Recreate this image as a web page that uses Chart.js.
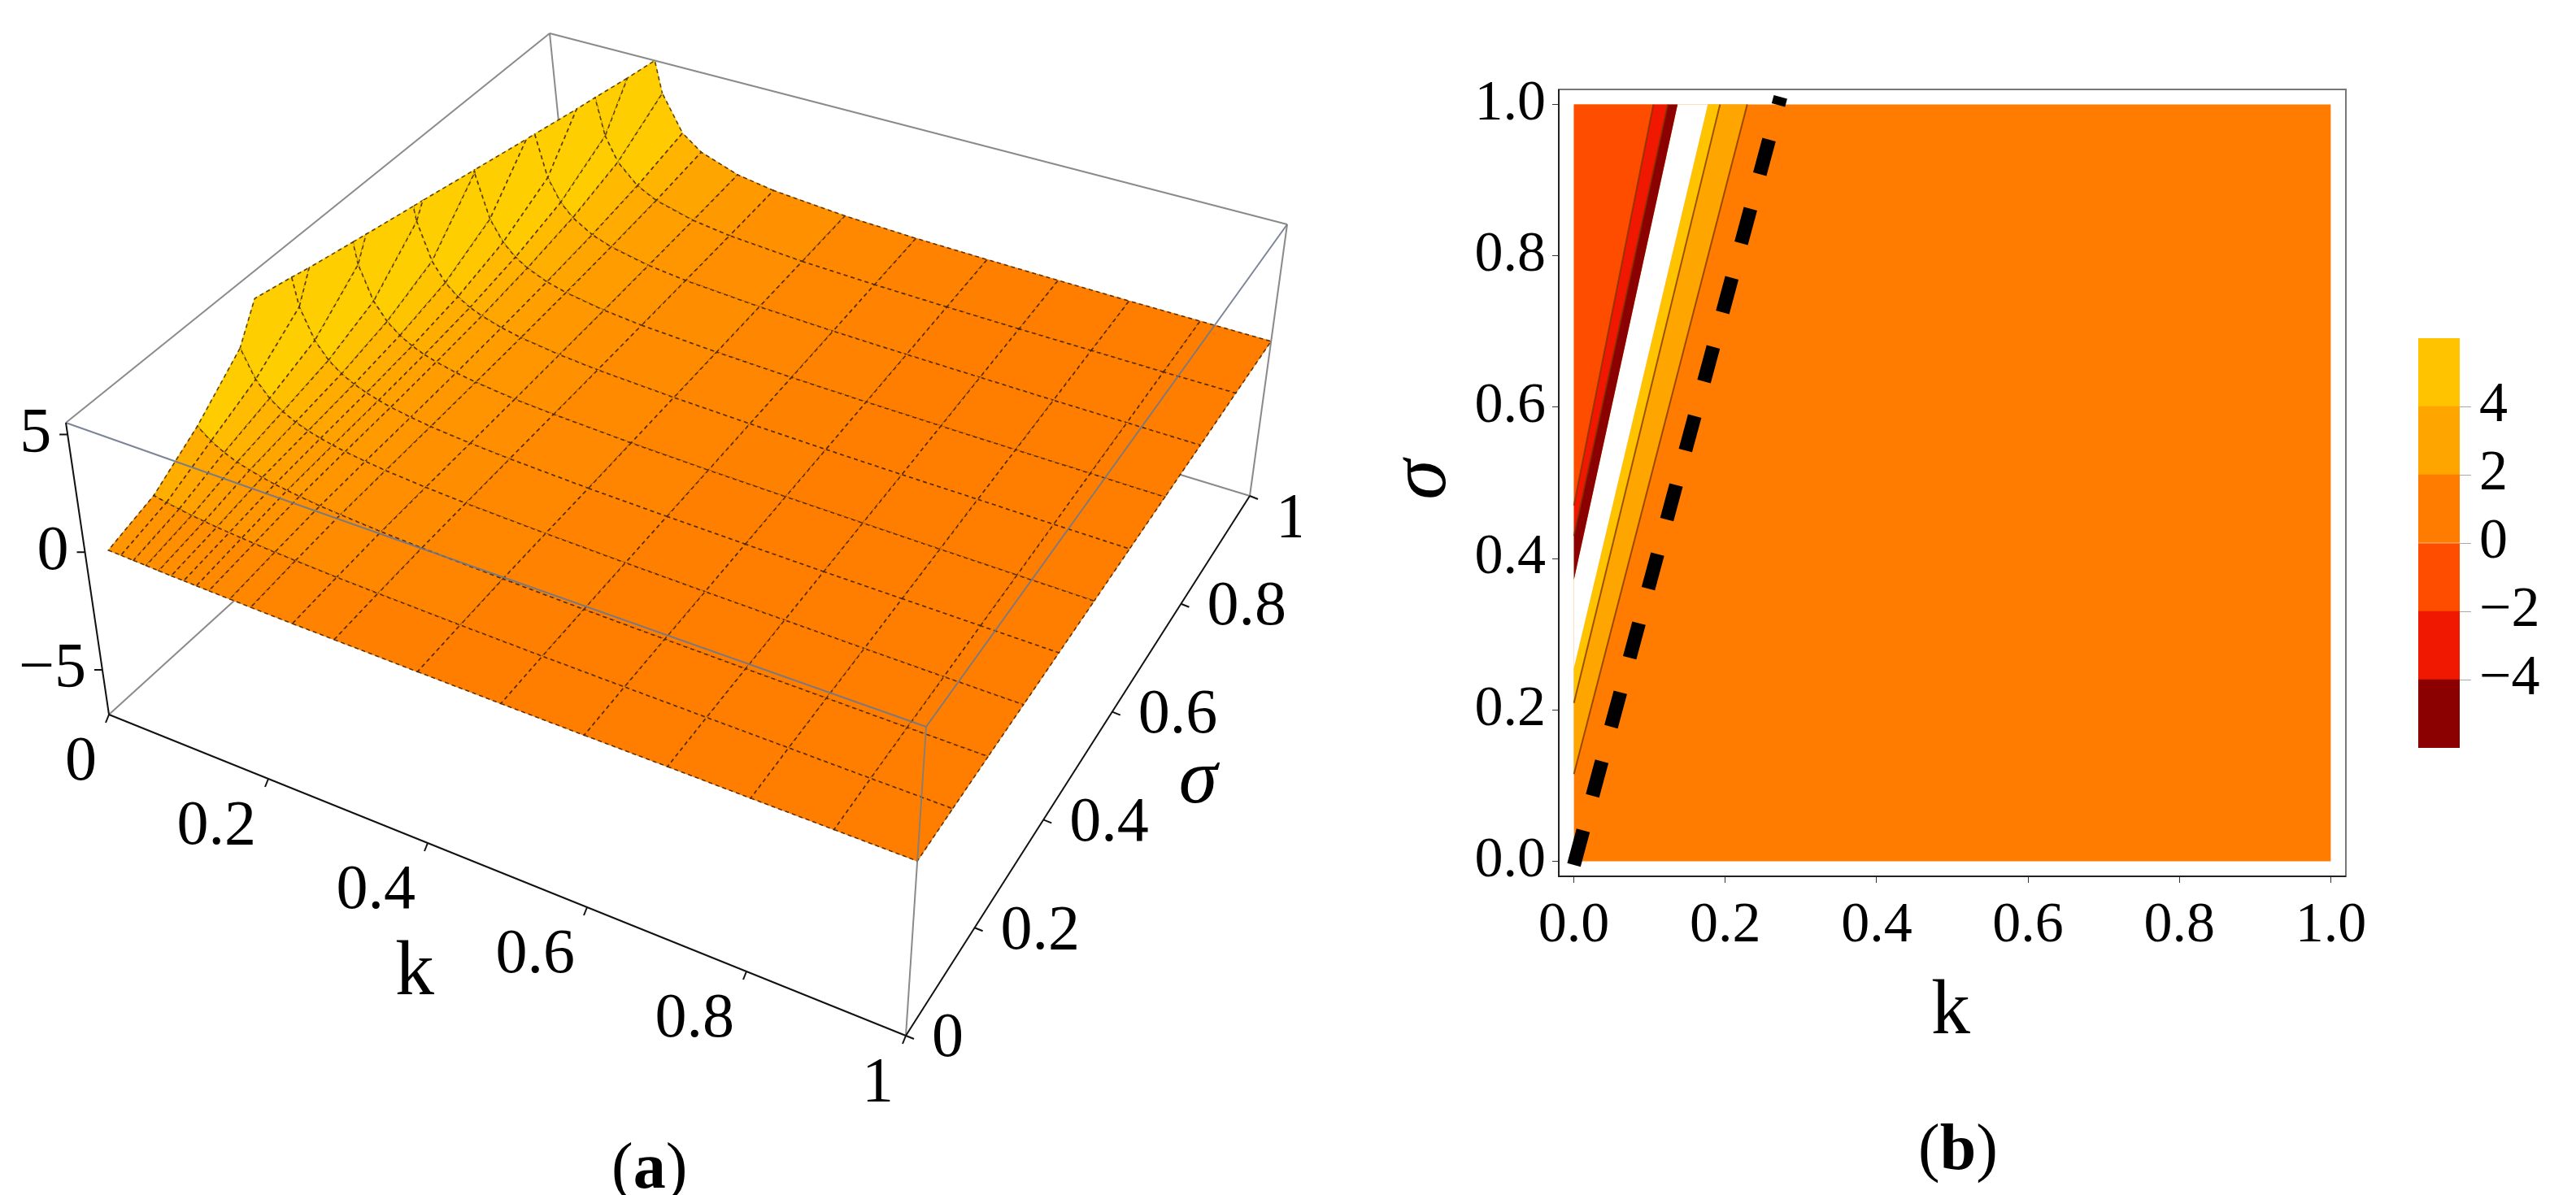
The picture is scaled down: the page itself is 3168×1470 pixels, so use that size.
<!DOCTYPE html>
<html>
<head>
<meta charset="utf-8">
<script src="https://cdn.jsdelivr.net/npm/chart.js@4.4.1/dist/chart.umd.min.js"></script>
<style>
  html, body { margin: 0; padding: 0; background: #fff; }
  body { width: 3168px; height: 1470px; position: relative; overflow: hidden; }
  canvas { position: absolute; top: 0; }
</style>
</head>
<body>
<canvas id="surfaceChart" width="1600" height="1470" style="left:0"></canvas>
<canvas id="contourChart" width="1340" height="1470" style="left:1600px"></canvas>
<canvas id="legendChart" width="228" height="1470" style="left:2940px"></canvas>
<script>
// ---- (a) surface: heights, 9 = off scale (clipped)
const surfK = [0.03, 0.045, 0.06, 0.075, 0.09, 0.105, 0.12, 0.135, 0.15, 0.175, 0.2, 0.25, 0.3, 0.4, 0.5, 0.6, 0.7, 0.8, 0.9, 1.0];
const surfSigma = [0, 0.1, 0.2, 0.3, 0.4, 0.5, 0.6, 0.7, 0.8, 0.9, 1.0];
const surfZ = [
  [0.48, 0.46, 0.44, 0.42, 0.40, 0.38, 0.37, 0.35, 0.34, 0.32, 0.30, 0.27, 0.25, 0.21, 0.18, 0.16, 0.15, 0.13, 0.12, 0.11],
  [1.08, 0.97, 0.88, 0.80, 0.74, 0.68, 0.64, 0.60, 0.56, 0.51, 0.47, 0.40, 0.35, 0.28, 0.23, 0.20, 0.18, 0.16, 0.14, 0.13],
  [2.33, 1.87, 1.56, 1.33, 1.17, 1.04, 0.93, 0.85, 0.78, 0.68, 0.61, 0.50, 0.42, 0.33, 0.26, 0.22, 0.19, 0.17, 0.15, 0.14],
  [4.00, 2.80, 2.15, 1.75, 1.47, 1.27, 1.12, 1.00, 0.90, 0.78, 0.68, 0.55, 0.46, 0.35, 0.28, 0.23, 0.20, 0.17, 0.15, 0.14],
  [7.80, 4.24, 2.92, 2.22, 1.79, 1.51, 1.30, 1.14, 1.01, 0.86, 0.74, 0.59, 0.49, 0.36, 0.29, 0.24, 0.20, 0.18, 0.16, 0.14],
  [9, 8.75, 4.52, 3.04, 2.30, 1.84, 1.54, 1.32, 1.16, 0.96, 0.82, 0.63, 0.52, 0.38, 0.30, 0.25, 0.21, 0.18, 0.16, 0.14],
  [9, 9, 9, 4.83, 3.18, 2.37, 1.89, 1.57, 1.35, 1.09, 0.91, 0.69, 0.55, 0.40, 0.31, 0.25, 0.21, 0.19, 0.16, 0.15],
  [9, 9, 9, 9, 5.38, 3.41, 2.50, 1.97, 1.63, 1.26, 1.03, 0.75, 0.59, 0.42, 0.32, 0.26, 0.22, 0.19, 0.17, 0.15],
  [9, 9, 9, 9, 9, 5.83, 3.59, 2.59, 2.03, 1.49, 1.18, 0.83, 0.64, 0.44, 0.33, 0.27, 0.23, 0.19, 0.17, 0.15],
  [9, 9, 9, 9, 9, 9, 6.36, 3.78, 2.69, 1.82, 1.37, 0.92, 0.69, 0.46, 0.35, 0.28, 0.23, 0.20, 0.17, 0.16],
  [9, 9, 9, 9, 9, 9, 9, 7.00, 4.00, 2.33, 1.65, 1.04, 0.76, 0.49, 0.36, 0.29, 0.24, 0.20, 0.18, 0.16]
];
const zMin = -6.9, zMax = 5.5;
const kTicks3d = [0, 0.2, 0.4, 0.6, 0.8, 1];
const sigmaTicks3d = [0, 0.2, 0.4, 0.6, 0.8, 1];
const zTicks3d = [-5, 0, 5];

// ---- (b) contour bands, polygons in (k, sigma)
const kTicks = [0, 0.2, 0.4, 0.6, 0.8, 1.0];
const sigmaTicks = [0, 0.2, 0.4, 0.6, 0.8, 1.0];
const bandMinusTwo = [[0, 0.47], [0, 1], [0.105, 1]];
const bandMinusFour = [[0, 0.43], [0, 0.47], [0.105, 1], [0.124, 1]];
const bandMinusSix = [[0, 0.372], [0, 0.43], [0.124, 1], [0.137, 1]];
const bandOffScale = [[0, 0.255], [0, 0.372], [0.137, 1], [0.177, 1]];
const bandFour = [[0, 0.209], [0, 0.255], [0.177, 1], [0.193, 1]];
const bandTwo = [[0, 0.115], [0, 0.209], [0.193, 1], [0.229, 1]];
const contourLines = [
  [[0, 0.115], [0.229, 1]],
  [[0, 0.209], [0.193, 1]],
  [[0, 0.47], [0.105, 1]],
  [[0, 0.43], [0.124, 1]]
];
const dashedLine = [[0, -0.005], [0.273, 1.01]];

// ---- colour bar
const legendEdges = [-6, -4, -2, 0, 2, 4, 6];
const legendTicks = [-4, -2, 0, 2, 4];
const legendColors = ["#8b0000", "#f01800", "#ff4d00", "#ff7c00", "#ffa500", "#ffc300"];

const serif = "'Liberation Serif', 'DejaVu Serif', serif";

// box corners of the 3D frame on the page (bottom z=zMin, top z=zMax)
const boxBottom = { a: [134, 879], b: [1114, 1274], c: [1537, 610], d: [708, 357] };
const boxTop = { a: [81, 520], b: [1139, 894], c: [1583, 276], d: [676, 41] };

function bil(f, k, s) {
  const x = (1 - k) * (1 - s) * f.a[0] + k * (1 - s) * f.b[0] + k * s * f.c[0] + (1 - k) * s * f.d[0];
  const y = (1 - k) * (1 - s) * f.a[1] + k * (1 - s) * f.b[1] + k * s * f.c[1] + (1 - k) * s * f.d[1];
  return [x, y];
}
function proj(k, s, z) {
  const w = (z - zMin) / (zMax - zMin);
  const p = bil(boxBottom, k, s), q = bil(boxTop, k, s);
  return [p[0] + (q[0] - p[0]) * w, p[1] + (q[1] - p[1]) * w];
}
function clipTop(poly) {
  const out = [];
  for (let i = 0; i < poly.length; i++) {
    const a = poly[i], b = poly[(i + 1) % poly.length];
    const ain = a[2] <= zMax, bin = b[2] <= zMax;
    if (ain) out.push(a);
    if (ain !== bin) {
      const t = (zMax - a[2]) / (b[2] - a[2]);
      out.push([a[0] + t * (b[0] - a[0]), a[1] + t * (b[1] - a[1]), zMax]);
    }
  }
  return out;
}
function surfColor(z) {
  let t = Math.max(0, Math.min(1, (z - 0.25) / 2.6));
  t = Math.pow(t, 0.75);
  const g = Math.round(126 + t * (206 - 126));
  return "rgb(255," + g + ",0)";
}

const surfacePlugin = {
  id: "surface",
  afterDatasetsDraw(chart) {
    const ctx = chart.ctx;
    const sx = chart.scales.x, sy = chart.scales.y;
    const P = (k, s, z) => { const p = proj(k, s, z); return [sx.getPixelForValue(p[0]), sy.getPixelForValue(p[1])]; };
    const line = (p, q, color, width) => {
      ctx.beginPath(); ctx.strokeStyle = color; ctx.lineWidth = width;
      ctx.moveTo(p[0], p[1]); ctx.lineTo(q[0], q[1]); ctx.stroke();
    };
    const grey = "rgba(125,125,125,0.9)";
    ctx.save();
    // hidden back edges
    line(P(0, 0, zMin), P(0, 1, zMin), grey, 2);
    line(P(0, 1, zMin), P(1, 1, zMin), grey, 2);
    line(P(0, 1, zMin), P(0, 1, zMax), grey, 2);

    // surface cells, far to near
    for (let j = surfSigma.length - 2; j >= 0; j--) {
      for (let i = 0; i < surfK.length - 1; i++) {
        const quad = [
          [surfK[i], surfSigma[j], surfZ[j][i]],
          [surfK[i + 1], surfSigma[j], surfZ[j][i + 1]],
          [surfK[i + 1], surfSigma[j + 1], surfZ[j + 1][i + 1]],
          [surfK[i], surfSigma[j + 1], surfZ[j + 1][i]]
        ];
        const poly = clipTop(quad);
        if (poly.length < 3) continue;
        const zAvg = poly.reduce((acc, v) => acc + v[2], 0) / poly.length;
        ctx.beginPath();
        poly.forEach((v, n) => { const p = P(v[0], v[1], v[2]); n ? ctx.lineTo(p[0], p[1]) : ctx.moveTo(p[0], p[1]); });
        ctx.closePath();
        ctx.fillStyle = surfColor(zAvg);
        ctx.fill();
        ctx.strokeStyle = surfColor(zAvg);
        ctx.lineWidth = 1;
        ctx.stroke();
        ctx.setLineDash([5, 4]);
        ctx.strokeStyle = "rgba(40,20,0,0.75)";
        ctx.lineWidth = 1.6;
        ctx.stroke();
        ctx.setLineDash([]);
      }
    }

    // front / top edges
    line(P(0, 0, zMax), P(1, 0, zMax), "rgba(110,120,140,0.9)", 2);
    line(P(1, 0, zMax), P(1, 1, zMax), "rgba(110,120,140,0.9)", 2);
    line(P(0, 0, zMax), P(0, 1, zMax), grey, 2);
    line(P(0, 1, zMax), P(1, 1, zMax), grey, 2);
    line(P(1, 0, zMin), P(1, 0, zMax), grey, 2);
    line(P(1, 1, zMin), P(1, 1, zMax), grey, 2);
    line(P(0, 0, zMin), P(0, 0, zMax), "#111", 2);
    line(P(0, 0, zMin), P(1, 0, zMin), "#111", 2);
    line(P(1, 0, zMin), P(1, 1, zMin), "#111", 2);

    // ticks and labels
    ctx.fillStyle = "#000";
    ctx.font = "78px " + serif;
    ctx.textBaseline = "middle";
    kTicks3d.forEach(k => {
      const p = P(k, 0, zMin);
      line(p, [p[0] - 4, p[1] + 10], "#111", 2);
      ctx.textAlign = "right";
      ctx.fillText(String(k), p[0] - 15, p[1] + 60);
    });
    sigmaTicks3d.forEach(s => {
      const p = P(1, s, zMin);
      line(p, [p[0] + 10, p[1] + 4], "#111", 2);
      ctx.textAlign = "left";
      ctx.fillText(String(s), p[0] + 32, p[1] + 5 + (s > 0.9 ? 25 : 0));
    });
    zTicks3d.forEach(z => {
      const p = P(0, 0, z);
      line(p, [p[0] - 10, p[1]], "#111", 2);
      ctx.textAlign = "right";
      ctx.fillText(z < 0 ? "\u2212" + Math.abs(z) : String(z), p[0] - 20, p[1]);
    });
    ctx.font = "96px " + serif;
    ctx.textAlign = "center";
    const kt = P(0.5, 0, zMin);
    ctx.fillText("k", kt[0] - 114, kt[1] + 121);
    const st = P(1, 0.5, zMin);
    ctx.font = "italic 96px " + serif;
    ctx.fillText("\u03c3", st[0] + 148, st[1] + 20);

    // panel label
    ctx.font = "80px " + serif;
    ctx.textAlign = "left";
    const lx = sx.getPixelForValue(752), ly = sy.getPixelForValue(1440);
    ctx.fillText("(", lx, ly);
    let w = ctx.measureText("(").width;
    ctx.font = "bold 80px " + serif;
    ctx.fillText("a", lx + w, ly);
    w += ctx.measureText("a").width;
    ctx.font = "80px " + serif;
    ctx.fillText(")", lx + w, ly);
    ctx.restore();
  }
};

new Chart(document.getElementById("surfaceChart").getContext("2d"), {
  type: "scatter",
  data: { datasets: [{ data: [], pointRadius: 0 }] },
  options: {
    responsive: false, animation: false,
    layout: { padding: 0 },
    plugins: { legend: { display: false }, tooltip: { enabled: false } },
    scales: {
      x: { type: "linear", min: 0, max: 1600, display: false },
      y: { type: "linear", min: 0, max: 1470, reverse: true, display: false }
    }
  },
  plugins: [surfacePlugin]
});

// ---- (b) contour chart
const bandsPlugin = {
  id: "bands",
  beforeDatasetsDraw(chart) {
    const ctx = chart.ctx, sx = chart.scales.x, sy = chart.scales.y;
    const poly = (pts, color) => {
      ctx.beginPath();
      pts.forEach((p, n) => { const x = sx.getPixelForValue(p[0]), y = sy.getPixelForValue(p[1]); n ? ctx.lineTo(x, y) : ctx.moveTo(x, y); });
      ctx.closePath(); ctx.fillStyle = color; ctx.fill();
    };
    ctx.save();
    poly([[0, 0], [1, 0], [1, 1], [0, 1]], "#ff7c00");
    poly(bandTwo, "#ffa500");
    poly(bandFour, "#ffc300");
    poly(bandOffScale, "#ffffff");
    poly(bandMinusSix, "#8b0000");
    poly(bandMinusFour, "#f01800");
    poly(bandMinusTwo, "#ff4d00");
    ctx.restore();
  },
  afterDraw(chart) {
    const ctx = chart.ctx, a = chart.chartArea;
    ctx.save();
    ctx.strokeStyle = "#777"; ctx.lineWidth = 2;
    ctx.strokeRect(a.left, a.top, a.right - a.left, a.bottom - a.top);
    ctx.strokeStyle = "#222";
    ctx.beginPath(); ctx.moveTo(a.left, a.top); ctx.lineTo(a.left, a.bottom); ctx.lineTo(a.right, a.bottom); ctx.stroke();
    ctx.fillStyle = "#000";
    ctx.textAlign = "center"; ctx.textBaseline = "middle";
    ctx.font = "96px " + serif;
    ctx.fillText("k", (a.left + a.right) / 2 - 2, a.bottom + 168);
    ctx.save();
    ctx.translate(a.left - 166, (a.top + a.bottom) / 2 - 4);
    ctx.rotate(-Math.PI / 2);
    ctx.font = "italic 100px " + serif;
    ctx.fillText("\u03c3", 0, 0);
    ctx.restore();
    ctx.font = "80px " + serif;
    ctx.textAlign = "left";
    const lx = (a.left + a.right) / 2 - 42, ly = a.bottom + 339;
    ctx.fillText("(", lx, ly);
    let w = ctx.measureText("(").width;
    ctx.font = "bold 80px " + serif;
    ctx.fillText("b", lx + w, ly);
    w += ctx.measureText("b").width;
    ctx.font = "80px " + serif;
    ctx.fillText(")", lx + w, ly);
    ctx.restore();
  }
};

const toPoints = arr => arr.map(p => ({ x: p[0], y: p[1] }));
const lineSets = contourLines.map(l => ({
  type: "line", data: toPoints(l), borderColor: "rgba(120,50,0,0.75)", borderWidth: 2,
  pointRadius: 0, fill: false, showLine: true
}));
lineSets.push({
  type: "line", data: toPoints(dashedLine), borderColor: "#000", borderWidth: 17,
  borderDash: [44, 44], borderCapStyle: "butt", pointRadius: 0, fill: false, showLine: true
});

const fixedTicks = list => scale => { scale.ticks = list.map(v => ({ value: v })); };

new Chart(document.getElementById("contourChart").getContext("2d"), {
  type: "scatter",
  data: { datasets: lineSets },
  options: {
    responsive: false, animation: false,
    layout: { padding: { top: 110, right: 55, left: 0, bottom: 0 } },
    plugins: { legend: { display: false }, tooltip: { enabled: false } },
    scales: {
      x: {
        type: "linear", min: -0.02, max: 1.02,
        afterBuildTicks: fixedTicks(kTicks),
        afterFit: s => { s.height = 392; },
        grid: { display: true, drawOnChartArea: false, tickLength: 8, color: "#333" },
        border: { display: false },
        ticks: { font: { family: serif, size: 70 }, color: "#000", padding: 12, maxRotation: 0, callback: v => v.toFixed(1) }
      },
      y: {
        type: "linear", min: -0.02, max: 1.02,
        afterBuildTicks: fixedTicks(sigmaTicks),
        afterFit: s => { s.width = 317; },
        grid: { display: true, drawOnChartArea: false, tickLength: 8, color: "#333" },
        border: { display: false },
        ticks: { font: { family: serif, size: 70 }, color: "#000", padding: 8, callback: v => v.toFixed(1) }
      }
    }
  },
  plugins: [bandsPlugin]
});

// ---- colour bar legend
const legendSets = legendColors.map((c, i) => ({
  data: [[legendEdges[i], legendEdges[i + 1]]],
  backgroundColor: c, borderWidth: 0, grouped: false,
  barPercentage: 1, categoryPercentage: 1
}));

new Chart(document.getElementById("legendChart").getContext("2d"), {
  type: "bar",
  data: { labels: [""], datasets: legendSets },
  options: {
    responsive: false, animation: false,
    layout: { padding: { top: 416, bottom: 550, left: 34, right: 0 } },
    plugins: { legend: { display: false }, tooltip: { enabled: false } },
    scales: {
      x: { display: false },
      y: {
        position: "right", min: -6, max: 6,
        afterBuildTicks: fixedTicks(legendTicks),
        afterFit: s => { s.width = 143; },
        grid: { display: true, drawOnChartArea: false, tickLength: 14, color: "#aaa" },
        border: { display: false },
        ticks: {
          font: { family: serif, size: 70 }, color: "#000", padding: 10,
          callback: v => (v < 0 ? "\u2212" + Math.abs(v) : String(v))
        }
      }
    }
  }
});
</script>
</body>
</html>
